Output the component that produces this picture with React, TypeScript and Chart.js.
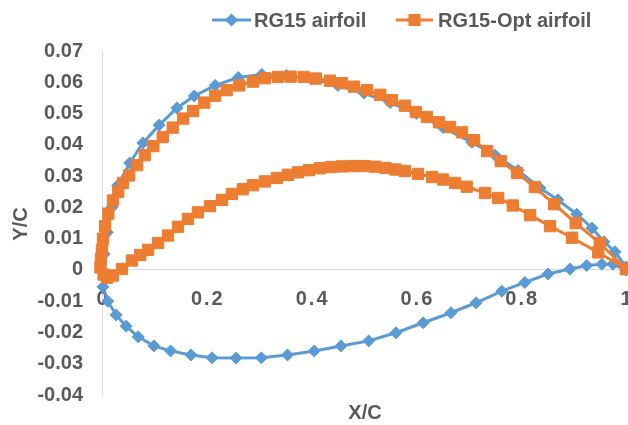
import React, { useEffect, useRef } from 'react';
import { Chart, registerables } from 'chart.js';

Chart.register(...registerables);

const seriesNames = ['RG15 airfoil', 'RG15-Opt airfoil'];

const rg15X = [1.000, 0.979, 0.958, 0.935, 0.906, 0.870, 0.836, 0.794, 0.750, 0.706, 0.651, 0.600, 0.550, 0.500, 0.450, 0.400, 0.352, 0.305, 0.260, 0.216, 0.176, 0.143, 0.109, 0.078, 0.053, 0.030, 0.019, 0.010, 0.004, 0.000, 0.002, 0.011, 0.027, 0.046, 0.069, 0.099, 0.131, 0.170, 0.210, 0.256, 0.304, 0.354, 0.405, 0.456, 0.509, 0.561, 0.613, 0.666, 0.714, 0.763, 0.807, 0.851, 0.893, 0.925, 0.954, 0.975, 1.000];
const rg15Y = [0.0010, 0.0058, 0.0090, 0.0134, 0.0178, 0.0224, 0.0262, 0.0318, 0.0367, 0.0408, 0.0455, 0.0500, 0.0535, 0.0565, 0.0590, 0.0610, 0.0622, 0.0625, 0.0615, 0.0590, 0.0556, 0.0518, 0.0463, 0.0406, 0.0342, 0.0270, 0.0200, 0.0120, 0.0050, 0.0000, -0.0054, -0.0100, -0.0144, -0.0180, -0.0214, -0.0243, -0.0259, -0.0272, -0.0281, -0.0282, -0.0281, -0.0272, -0.0259, -0.0243, -0.0227, -0.0201, -0.0169, -0.0137, -0.0105, -0.0068, -0.0040, -0.0013, 0.0003, 0.0014, 0.0018, 0.0018, 0.0000];

const optX = [1.000, 0.950, 0.904, 0.863, 0.826, 0.792, 0.761, 0.735, 0.710, 0.687, 0.664, 0.643, 0.620, 0.599, 0.578, 0.553, 0.531, 0.506, 0.481, 0.458, 0.435, 0.408, 0.385, 0.360, 0.336, 0.311, 0.288, 0.262, 0.238, 0.216, 0.195, 0.174, 0.155, 0.135, 0.116, 0.098, 0.082, 0.067, 0.052, 0.040, 0.031, 0.021, 0.012, 0.006, 0.002, 0.000, -0.002, -0.003, 0.003, 0.010, 0.021, 0.038, 0.057, 0.073, 0.088, 0.107, 0.126, 0.145, 0.164, 0.183, 0.206, 0.229, 0.248, 0.269, 0.288, 0.311, 0.334, 0.355, 0.374, 0.395, 0.416, 0.437, 0.458, 0.479, 0.500, 0.521, 0.541, 0.560, 0.578, 0.603, 0.630, 0.651, 0.674, 0.696, 0.731, 0.756, 0.784, 0.817, 0.855, 0.897, 0.947, 1.000];
const optY = [0.0003, 0.0086, 0.0150, 0.0210, 0.0265, 0.0310, 0.0348, 0.0380, 0.0415, 0.0440, 0.0457, 0.0472, 0.0489, 0.0505, 0.0525, 0.0543, 0.0560, 0.0575, 0.0586, 0.0597, 0.0605, 0.0612, 0.0617, 0.0618, 0.0617, 0.0613, 0.0602, 0.0590, 0.0575, 0.0557, 0.0535, 0.0508, 0.0484, 0.0455, 0.0425, 0.0396, 0.0367, 0.0335, 0.0302, 0.0278, 0.0250, 0.0222, 0.0180, 0.0140, 0.0100, 0.0065, 0.0035, 0.0008, -0.0015, -0.0025, -0.0018, 0.0003, 0.0030, 0.0048, 0.0064, 0.0086, 0.0110, 0.0138, 0.0163, 0.0184, 0.0204, 0.0224, 0.0243, 0.0258, 0.0271, 0.0283, 0.0294, 0.0304, 0.0312, 0.0319, 0.0325, 0.0329, 0.0331, 0.0332, 0.0332, 0.0330, 0.0326, 0.0321, 0.0316, 0.0307, 0.0297, 0.0289, 0.0278, 0.0266, 0.0246, 0.0230, 0.0206, 0.0175, 0.0140, 0.0103, 0.0056, 0.0003];

const xTicks = [0, 0.2, 0.4, 0.6, 0.8, 1];
const xTickLabels = ['0', '0.2', '0.4', '0.6', '0.8', '1'];
const yTicks = [-0.04, -0.03, -0.02, -0.01, 0, 0.01, 0.02, 0.03, 0.04, 0.05, 0.06, 0.07];
const yTickLabels = ['-0.04', '-0.03', '-0.02', '-0.01', '0', '0.01', '0.02', '0.03', '0.04', '0.05', '0.06', '0.07'];
const xTitle = 'X/C';
const yTitle = 'Y/C';

const BLUE = '#5B9BD5';
const ORANGE = '#ED7D31';
const TEXT = '#595959';
const FONT = '"Liberation Sans", Arial, sans-serif';

const overlay = {
  id: 'overlay',
  beforeDatasetsDraw(chart: any) {
    const ctx = chart.ctx;
    const xs = chart.scales.x;
    const ys = chart.scales.y;
    const y0 = ys.getPixelForValue(0);
    ctx.save();
    ctx.font = `bold 20px ${FONT}`;
    ctx.fillStyle = TEXT;
    ctx.textAlign = 'center';
    ctx.textBaseline = 'middle';
    (ctx as any).letterSpacing = '2px';
    xTicks.forEach((v, i) => {
      ctx.fillText(xTickLabels[i], xs.getPixelForValue(v) + 1, y0 + 30);
    });
    ctx.restore();
  },
  afterDraw(chart: any) {
    const ctx = chart.ctx;
    ctx.save();
    ctx.font = `bold 20px ${FONT}`;
    ctx.fillStyle = TEXT;
    ctx.textBaseline = 'middle';
    ctx.textAlign = 'center';
    ctx.fillText(xTitle, 365, 413);
    ctx.save();
    ctx.translate(21, 224);
    ctx.rotate(-Math.PI / 2);
    ctx.fillText(yTitle, 0, 0);
    ctx.restore();
    const ly = 20;
    ctx.lineWidth = 3;
    ctx.strokeStyle = BLUE;
    ctx.beginPath();
    ctx.moveTo(212, ly);
    ctx.lineTo(251, ly);
    ctx.stroke();
    ctx.fillStyle = BLUE;
    ctx.beginPath();
    ctx.moveTo(231.5, ly - 6.5);
    ctx.lineTo(238, ly);
    ctx.lineTo(231.5, ly + 6.5);
    ctx.lineTo(225, ly);
    ctx.closePath();
    ctx.fill();
    ctx.strokeStyle = ORANGE;
    ctx.beginPath();
    ctx.moveTo(396, ly);
    ctx.lineTo(433, ly);
    ctx.stroke();
    ctx.fillStyle = ORANGE;
    ctx.fillRect(408.5, ly - 6, 12, 12);
    ctx.fillStyle = TEXT;
    ctx.textAlign = 'left';
    ctx.fillText(seriesNames[0], 254, ly + 1);
    ctx.fillText(seriesNames[1], 438, ly + 1);
    ctx.restore();
  },
};

export default function App() {
  const ref = useRef<HTMLCanvasElement>(null);
  useEffect(() => {
    if (!ref.current) return;
    const chart = new Chart(ref.current, {
      type: 'scatter',
      data: {
        datasets: [
          {
            label: seriesNames[0],
            data: rg15X.map((x, i) => ({ x, y: rg15Y[i] })),
            showLine: true,
            borderColor: BLUE,
            backgroundColor: BLUE,
            borderWidth: 3,
            pointStyle: 'rectRot',
            pointRadius: 6,
            pointBorderWidth: 1,
            pointBackgroundColor: BLUE,
            pointBorderColor: BLUE,
            tension: 0,
            clip: false,
            order: 1,
          },
          {
            label: seriesNames[1],
            data: optX.map((x, i) => ({ x, y: optY[i] })),
            showLine: true,
            borderColor: ORANGE,
            backgroundColor: ORANGE,
            borderWidth: 3,
            pointStyle: 'rect',
            pointRadius: 8,
            pointBorderWidth: 1,
            pointBackgroundColor: ORANGE,
            pointBorderColor: ORANGE,
            tension: 0,
            clip: false,
            order: 0,
          },
        ],
      } as any,
      options: {
        animation: false,
        responsive: false,
        layout: { autoPadding: false, padding: { top: 51, left: 0, right: 2, bottom: 30 } },
        plugins: { legend: { display: false }, tooltip: { enabled: false } },
        scales: {
          x: {
            type: 'linear',
            min: 0,
            max: 1,
            position: { y: 0 } as any,
            grid: { display: false, drawTicks: false },
            border: { display: true, color: '#D9D9D9', width: 1 },
            ticks: { display: false },
            afterFit: (s: any) => {
              s.height = 0;
              s.paddingLeft = 0;
              s.paddingRight = 0;
            },
          },
          y: {
            type: 'linear',
            min: -0.04,
            max: 0.07,
            position: 'left',
            grid: { display: false, drawTicks: false },
            border: { display: true, color: '#D9D9D9', width: 1 },
            afterBuildTicks: (s: any) => {
              s.ticks = yTicks.map((v) => ({ value: v }));
            },
            ticks: {
              padding: 19,
              color: TEXT,
              font: { family: FONT, size: 20, weight: 'bold' },
              callback: (v: any) => {
                const i = yTicks.findIndex((t) => Math.abs(t - Number(v)) < 1e-9);
                return i >= 0 ? yTickLabels[i] : '';
              },
            },
            afterFit: (s: any) => {
              s.width = 102;
              s.paddingTop = 0;
              s.paddingBottom = 0;
            },
          },
        },
      } as any,
      plugins: [overlay],
    });
    return () => chart.destroy();
  }, []);
  return (
    <div style={{ position: 'fixed', left: 0, top: 0, width: 628, height: 425, background: '#fff' }}>
      <canvas ref={ref} width={628} height={425} style={{ display: 'block' }} />
    </div>
  );
}
